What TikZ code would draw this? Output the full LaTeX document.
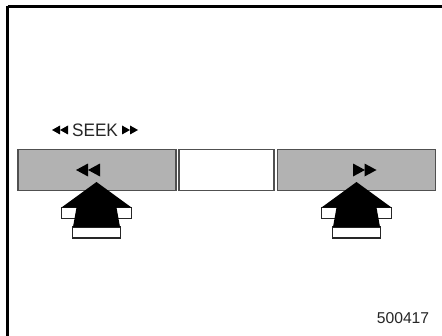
\documentclass[tikz,border=0pt]{standalone}
\usepackage{fontspec}
\setmainfont{Liberation Sans}
\definecolor{btn}{RGB}{178,178,178}
\definecolor{edge}{RGB}{80,80,80}
\newlength{\pxu}
\setlength{\pxu}{0.0264583cm}
\tikzset{x=\pxu,y=-\pxu,
  frameline/.style={draw=black,line width=1.6pt},
  button/.style={draw=edge,line width=0.85pt,rectangle,inner sep=0,outer sep=0,anchor=north west,minimum height=41\pxu},
  blackfill/.style={fill=black,draw=none},
  whitebar/.style={draw=black!85,fill=white,line width=1.3pt},
  txt/.style={inner sep=0,text=black!85}}
\newcommand{\tri}[4]{\fill (#1,#2) -- ++(#3,-#4) -- ++(0,2*#4) -- cycle;}
\newcommand{\pressarrow}[1]{%
  \begin{scope}[shift={(#1,0)}]
    \draw[whitebar] (-35,207.5) rectangle (35,218.5);
    \draw[whitebar] (-24,227) rectangle (24,238);
    \fill[blackfill] (0,182) -- (35,207.5) -- (20,207.5) -- (23.5,227) -- (-23.5,227) -- (-20,207.5) -- (-35,207.5) -- cycle;
  \end{scope}}
\begin{document}
\begin{tikzpicture}
\useasboundingbox (0,0) rectangle (442,336);
\fill[white] (0,0) rectangle (442,336);
\draw[frameline] (7.5,6.5) -- (442,6.5);
\draw[frameline] (7.5,6.5) -- (7.5,336);
\node[button,fill=btn,minimum width=158\pxu] (left) at (18,149.5) {};
\node[button,fill=white,minimum width=95\pxu] (mid) at (179,149.5) {};
\node[button,fill=btn,minimum width=158\pxu] (right) at (277.5,149.5) {};
\pressarrow{96.5}
\pressarrow{356.5}
\tri{76}{170}{12}{6.5}\tri{88}{170}{12}{6.5}
\tri{365}{170}{-12}{6.5}\tri{376.5}{170}{-12}{6.5}
\tri{52}{130}{8}{4.5}\tri{60}{130}{8}{4.5}
\tri{130}{130}{-8}{4.5}\tri{138}{130}{-8}{4.5}
\node[txt,xscale=0.95,font=\fontsize{13.6pt}{15pt}\selectfont] (seek) at (95,130) {SEEK};
\node[txt,font=\fontsize{11.8pt}{14pt}\selectfont] (num) at (403,318) {500417};
\end{tikzpicture}
\end{document}
